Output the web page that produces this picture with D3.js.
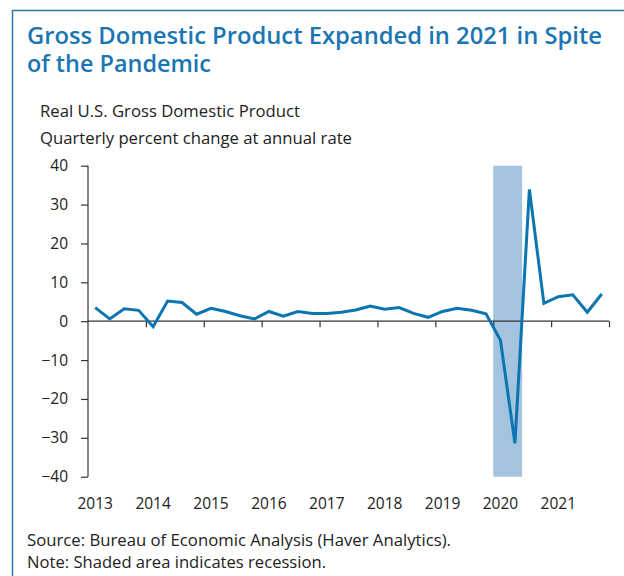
<!DOCTYPE html>
<html>
<head>
<meta charset="utf-8">
<script src="https://cdn.jsdelivr.net/npm/d3@7"></script>
<style>
  html, body { margin: 0; padding: 0; background: white; }
  text { font-family: "Open Sans", "Noto Sans", sans-serif; }
</style>
</head>
<body>
<main></main>
<script>
const WIDTH = 624;
const HEIGHT = 576;

// Real GDP, quarterly percent change at annual rate, 2013Q1 - 2021Q4
const years = [2013, 2014, 2015, 2016, 2017, 2018, 2019, 2020, 2021];
const gdp = [
    3.5, 0.6, 3.2, 2.8,
    -1.4, 5.2, 4.8, 1.8,
    3.3, 2.5, 1.4, 0.6,
    2.5, 1.3, 2.5, 2.0,
    2.0, 2.3, 2.9, 3.9,
    3.1, 3.5, 2.0, 1.0,
    2.5, 3.3, 2.8, 1.9,
    -4.9, -31.4, 33.9, 4.6,
    6.3, 6.8, 2.3, 7.0
];
const yTicks = [40, 30, 20, 10, 0, -10, -20, -30, -40];
const recession = [2020, 2020.5];

const titleLines = ["Gross Domestic Product Expanded in 2021 in Spite", "of the Pandemic"];
const subtitleLines = ["Real U.S. Gross Domestic Product", "Quarterly percent change at annual rate"];
const noteLines = ["Source: Bureau of Economic Analysis (Haver Analytics).", "Note: Shaded area indicates recession."];

// rendered widths of the text lines in the original
const titleWidths = [575, 184];
const subtitleWidths = [260, 312];
const noteWidths = [424, 299];

function drawChart () {
    var svg = d3.select("main").append("svg")
                .attr("width", WIDTH)
                .attr("height", HEIGHT);

    // Frame, top and left edges only
    svg.append("path")
       .attr("d", "M12.5," + HEIGHT + "V10.5H" + WIDTH)
       .style("fill", "none")
       .style("stroke", "#2b78a3")
       .style("stroke-width", 1.5);

    // Title
    svg.selectAll(".title")
       .data(titleLines)
       .enter()
       .append("text")
       .attr("class", "title")
       .attr("x", 27)
       .attr("y", function(d, i) { return 43.5 + i * 28; })
       .attr("font-size", 24)
       .attr("font-weight", 600)
       .attr("textLength", function(d, i) { return titleWidths[i]; })
       .attr("lengthAdjust", "spacingAndGlyphs")
       .style("fill", "#1a76b2")
       .text(function(d) { return d; });

    svg.selectAll(".subtitle")
       .data(subtitleLines)
       .enter()
       .append("text")
       .attr("class", "subtitle")
       .attr("x", 40)
       .attr("y", function(d, i) { return 117 + i * 26.5; })
       .attr("font-size", 16.5)
       .attr("textLength", function(d, i) { return subtitleWidths[i]; })
       .attr("lengthAdjust", "spacingAndGlyphs")
       .style("fill", "#222")
       .text(function(d) { return d; });

    svg.selectAll(".note")
       .data(noteLines)
       .enter()
       .append("text")
       .attr("class", "note")
       .attr("x", 27)
       .attr("y", function(d, i) { return 546 + i * 22; })
       .attr("font-size", 16.5)
       .attr("textLength", function(d, i) { return noteWidths[i]; })
       .attr("lengthAdjust", "spacingAndGlyphs")
       .style("fill", "#222")
       .text(function(d) { return d; });

    var x = d3.scaleLinear().domain([2013, 2022]).range([88, 609]);
    var y = d3.scaleLinear().domain([-40, 40]).range([476.7, 165.7]);

    // Recession shading
    svg.append("rect")
       .attr("x", x(recession[0]))
       .attr("y", y(40))
       .attr("width", x(recession[1]) - x(recession[0]))
       .attr("height", y(-40) - y(40))
       .style("fill", "#a4c3df");

    // Y axis
    var yAxis = svg.append("g")
                   .attr("transform", "translate(88,0)")
                   .call(d3.axisLeft(y).tickValues(yTicks).tickSize(7).tickPadding(13));
    yAxis.select(".domain").attr("d", "M0," + y(40) + "V" + y(-40));

    // X axis along zero line
    var xAxis = svg.append("g")
                   .attr("transform", "translate(0," + y(0) + ")")
                   .call(d3.axisBottom(x).tickValues(d3.range(2014, 2023)).tickSize(6).tickFormat(""));
    xAxis.select(".domain").attr("d", "M" + x(2013) + ",0H" + x(2022));

    svg.selectAll(".domain, .tick line")
       .style("stroke", "#333")
       .style("stroke-width", 1.2);

    yAxis.selectAll("text")
         .attr("font-size", 15.5)
         .style("font-family", "\"Open Sans\", \"Noto Sans\", sans-serif")
         .style("fill", "#222");

    // Year labels, centered on each first quarter
    svg.selectAll(".year")
       .data(years)
       .enter()
       .append("text")
       .attr("class", "year")
       .attr("x", function(d) { return x(d + 0.125); })
       .attr("y", 509)
       .attr("font-size", 15.5)
       .style("text-anchor", "middle")
       .style("fill", "#222")
       .text(function(d) { return d; });

    // GDP line
    var line = d3.line()
                 .x(function(d, i) { return x(2013 + (i + 0.5) / 4); })
                 .y(function(d) { return y(d); });

    svg.append("path")
       .datum(gdp)
       .attr("d", line)
       .style("fill", "none")
       .style("stroke", "#0b75b1")
       .style("stroke-width", 3)
       .style("stroke-linejoin", "miter");
}

drawChart();
</script>
</body>
</html>
